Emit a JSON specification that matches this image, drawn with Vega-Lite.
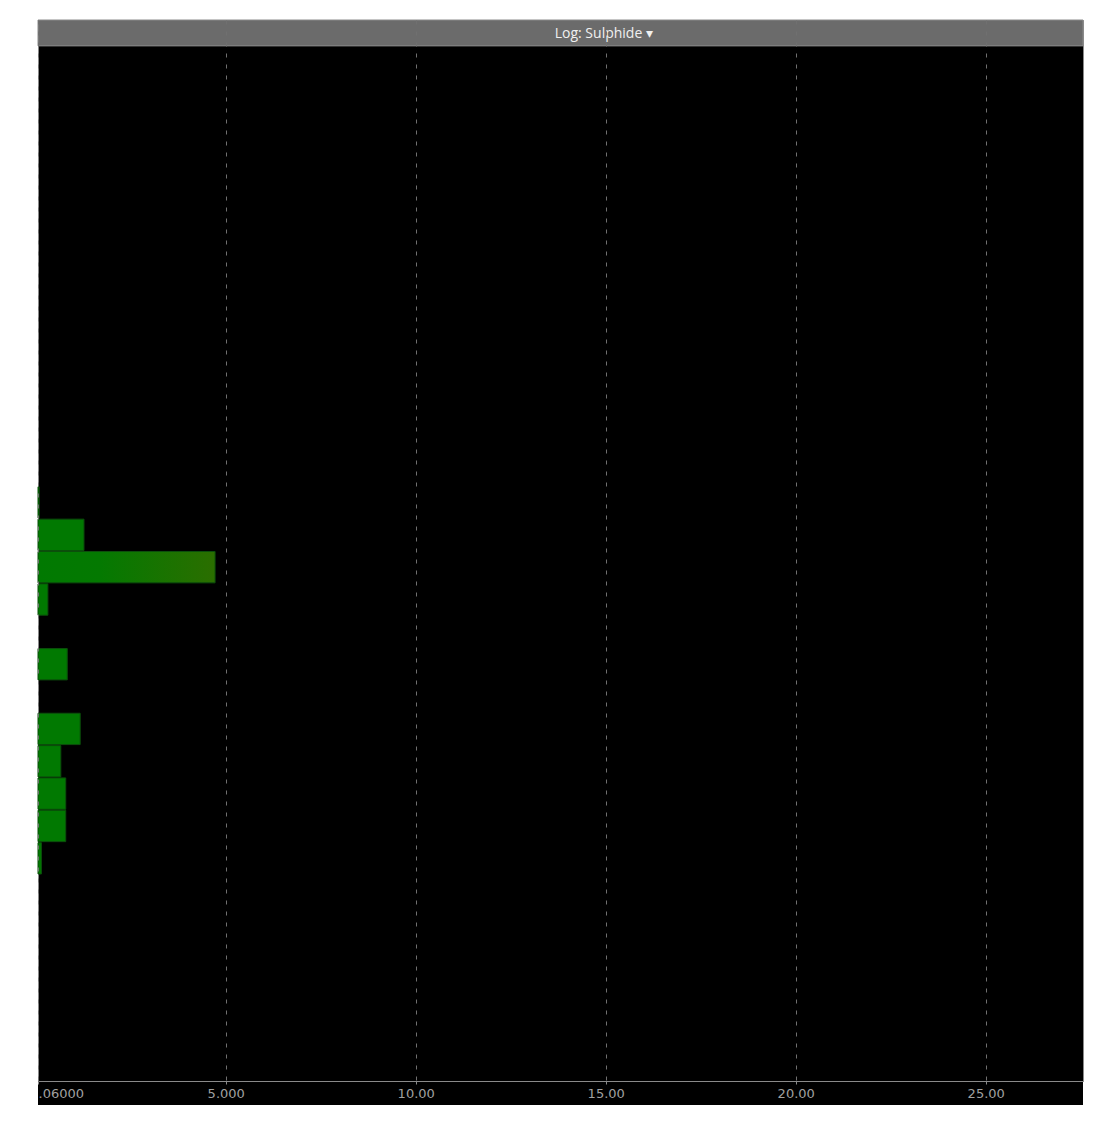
{
  "$schema": "https://vega.github.io/schema/vega-lite/v6.json",
  "width": 1045,
  "height": 1061,
  "autosize": {"type": "none"},
  "padding": {"left": 38, "top": 20, "right": 11, "bottom": 47},
  "background": "#ffffff",
  "view": {"fill": "#000000", "stroke": "#8a8a8a", "strokeWidth": 1},
  "datasets": {
    "bins": [
      {"lo": 6.4, "hi": 7.4, "frequency": 0.15},
      {"lo": 7.4, "hi": 8.4, "frequency": 0.79},
      {"lo": 8.4, "hi": 9.4, "frequency": 0.79},
      {"lo": 9.4, "hi": 10.4, "frequency": 0.66},
      {"lo": 10.4, "hi": 11.4, "frequency": 1.17},
      {"lo": 12.4, "hi": 13.4, "frequency": 0.83},
      {"lo": 14.4, "hi": 15.4, "frequency": 0.32},
      {"lo": 15.4, "hi": 16.4, "frequency": 4.72},
      {"lo": 16.4, "hi": 17.4, "frequency": 1.27},
      {"lo": 17.4, "hi": 18.4, "frequency": 0.09}
    ],
    "header": [{"label": "Log: Sulphide ▾"}]
  },
  "layer": [
    {
      "data": {"name": "header"},
      "mark": {"type": "rect", "fill": "#6b6b6b", "stroke": "#8a8a8a", "strokeWidth": 1},
      "encoding": {
        "y": {"datum": 32.8, "type": "quantitative", "scale": {"domain": [0, 32.8], "nice": false, "zero": false}, "axis": null},
        "y2": {"datum": 32}
      }
    },
    {
      "data": {"name": "header"},
      "mark": {"type": "rect", "fill": "#000000"},
      "encoding": {
        "y": {"datum": 0, "type": "quantitative"},
        "y2": {"datum": -0.742}
      }
    },
    {
      "data": {"name": "header"},
      "mark": {"type": "text", "font": "Open Sans", "fontSize": 14, "color": "#f0f0f0", "align": "center", "baseline": "middle"},
      "encoding": {
        "x": {"datum": 14.95, "type": "quantitative"},
        "y": {"datum": 32.36, "type": "quantitative"},
        "text": {"field": "label"}
      }
    },
    {
      "data": {"name": "bins"},
      "mark": {"type": "bar", "orient": "horizontal", "stroke": "#0b4f0b", "strokeWidth": 1, "binSpacing": 1},
      "encoding": {
        "y": {"field": "lo", "type": "quantitative", "bin": "binned"},
        "y2": {"field": "hi"},
        "x": {
          "field": "frequency",
          "type": "quantitative",
          "scale": {"domain": [0.06, 27.56], "nice": false, "zero": false},
          "axis": {
            "zindex": 1,
            "title": null,
            "values": [0.06, 5, 10, 15, 20, 25],
            "labelExpr": "datum.value < 1 ? replace(format(datum.value, '.4r'), '0.', '.') : format(datum.value, '.4r')",
            "labelFlush": true,
            "labelFont": "DejaVu Sans",
            "labelFontSize": 13,
            "labelColor": "#a0a0a0",
            "labelPadding": 3,
            "domainColor": "#8a8a8a",
            "domainWidth": 1,
            "tickColor": "#8a8a8a",
            "tickSize": 3,
            "grid": true,
            "gridColor": "#707070",
            "gridDash": [4, 7],
            "gridWidth": 1
          }
        },
        "x2": {"datum": 0.06},
        "color": {
          "condition": {
            "test": "datum.frequency > 3",
            "value": {
              "gradient": "linear",
              "x1": 0, "y1": 0, "x2": 1, "y2": 0,
              "stops": [
                {"offset": 0, "color": "#017901"},
                {"offset": 0.35, "color": "#047901"},
                {"offset": 1, "color": "#2b6e00"}
              ]
            }
          },
          "value": "#017901"
        }
      }
    }
  ]
}
